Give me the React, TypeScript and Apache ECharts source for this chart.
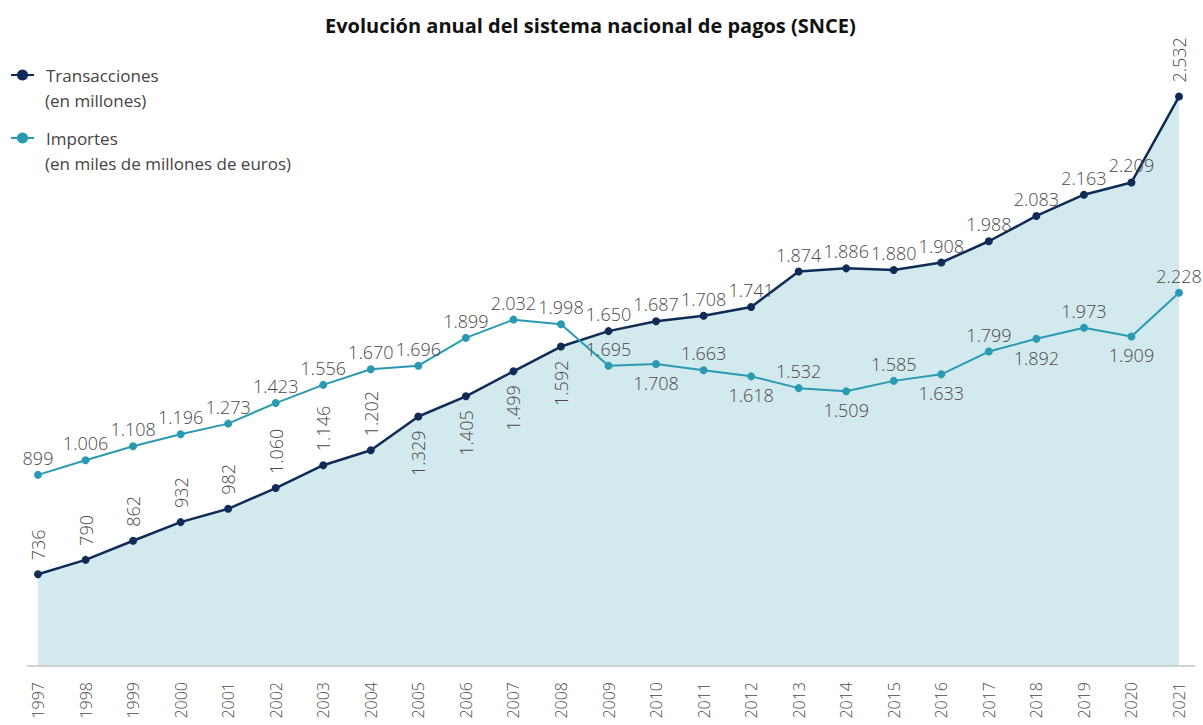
import React, { useEffect, useRef } from "react";
import * as echarts from "echarts";

const years = ["1997","1998","1999","2000","2001","2002","2003","2004","2005","2006","2007","2008","2009","2010","2011","2012","2013","2014","2015","2016","2017","2018","2019","2020","2021"];
const transacciones = [736, 790, 862, 932, 982, 1060, 1146, 1202, 1329, 1405, 1499, 1592, 1650, 1687, 1708, 1741, 1874, 1886, 1880, 1908, 1988, 2083, 2163, 2209, 2532];
const importes = [899, 1006, 1108, 1196, 1273, 1423, 1556, 1670, 1696, 1899, 2032, 1998, 1695, 1708, 1663, 1618, 1532, 1509, 1585, 1633, 1799, 1892, 1973, 1909, 2228];

// label placement codes (style only)
const transLabelPlacement = ["ru","ru","ru","ru","ru","ru","ru","ru","rd","rd","rd","rd","u","u","u","u","u","u","u","u","u","u","u","u","ru"];
const impLabelPlacement = ["u","u","u","u","u","u","u","u","u","u","u","u","u","d","u","d","u","d","u","d","u","d","u","d","u"];

const FONT = "'Open Sans', sans-serif";
const DARK = "#0f2b58";
const TEAL = "#2a9ab3";
const AREA = "#d2e9ed";
const LABEL_COLOR = "#4a4a4a";

const fmt = (v: number) =>
  v >= 1000 ? Math.floor(v / 1000) + "." + String(v % 1000).padStart(3, "0") : String(v);

const labelFor = (code: string) => {
  const base = { show: true, fontSize: 18, color: LABEL_COLOR, fontFamily: FONT, fontWeight: 300 as any };
  if (code === "ru") return { ...base, position: "top", rotate: 90, align: "left", verticalAlign: "middle", distance: 10 };
  if (code === "rd") return { ...base, position: "bottom", rotate: 90, align: "right", verticalAlign: "middle", distance: 10 };
  if (code === "d") return { ...base, position: "bottom", distance: 6 };
  return { ...base, position: "top", distance: 4 };
};

export default function App() {
  const ref = useRef<HTMLDivElement>(null);
  useEffect(() => {
    if (!ref.current) return;
    const chart = echarts.init(ref.current, null, { renderer: "svg" });
    chart.setOption({
      animation: false,
      backgroundColor: "#ffffff",
      title: {
        text: "Evolución anual del sistema nacional de pagos (SNCE)",
        left: 320,
        top: 10,
        textStyle: { fontFamily: FONT, fontSize: 20, fontWeight: "bold", color: "#111" },
      },
      legend: {
        orient: "vertical",
        left: 5,
        top: 60,
        itemWidth: 23,
        itemHeight: 14,
        itemGap: 43,
        data: ["Transacciones", "Importes"],
        textStyle: { fontFamily: FONT, fontSize: 17, color: "#444", lineHeight: 20, padding: [0, 0, 0, 7] },
      },
      graphic: [
        { type: "text", x: 45, y: 100, style: { text: "(en millones)", fontSize: 17, fontFamily: FONT, fill: "#444", verticalAlign: "middle" } },
        { type: "text", x: 45, y: 163, style: { text: "(en miles de millones de euros)", fontSize: 17, fontFamily: FONT, fill: "#444", verticalAlign: "middle" } },
        { type: "line", shape: { x1: 27, y1: 666, x2: 1195, y2: 666 }, style: { stroke: "#c4c4c4", lineWidth: 1.5 }, z: 5 },
      ],
      grid: { left: 38, right: 24, top: 50, bottom: 59 },
      xAxis: {
        type: "category",
        data: years,
        boundaryGap: false,
        axisLine: { show: false },
        axisTick: { show: false },
        axisLabel: { rotate: 90, margin: 16, fontSize: 16, color: LABEL_COLOR, fontFamily: FONT, fontWeight: 300 },
      },
      yAxis: [
        { type: "value", min: 391, max: 2707, show: false, splitLine: { show: false } },
        { type: "value", min: -496, max: 4000, show: false, splitLine: { show: false } },
      ],
      series: [
        {
          name: "Transacciones",
          type: "line",
          yAxisIndex: 0,
          symbol: "circle",
          symbolSize: 8,
          color: DARK,
          lineStyle: { color: DARK, width: 2.5 },
          itemStyle: { color: DARK },
          areaStyle: { color: AREA, opacity: 1 },
          data: transacciones.map((v, i) => ({ value: v, label: labelFor(transLabelPlacement[i]) })),
          label: { show: true, formatter: (p: any) => fmt(p.value) },
          z: 2,
        },
        {
          name: "Importes",
          type: "line",
          yAxisIndex: 1,
          symbol: "circle",
          symbolSize: 8,
          color: TEAL,
          lineStyle: { color: TEAL, width: 2 },
          itemStyle: { color: TEAL },
          data: importes.map((v, i) => ({ value: v, label: labelFor(impLabelPlacement[i]) })),
          label: { show: true, formatter: (p: any) => fmt(p.value) },
          z: 3,
        },
      ],
    });
    return () => chart.dispose();
  }, []);
  return <div ref={ref} style={{ position: "fixed", left: 0, top: 0, width: 1203, height: 725 }} />;
}
